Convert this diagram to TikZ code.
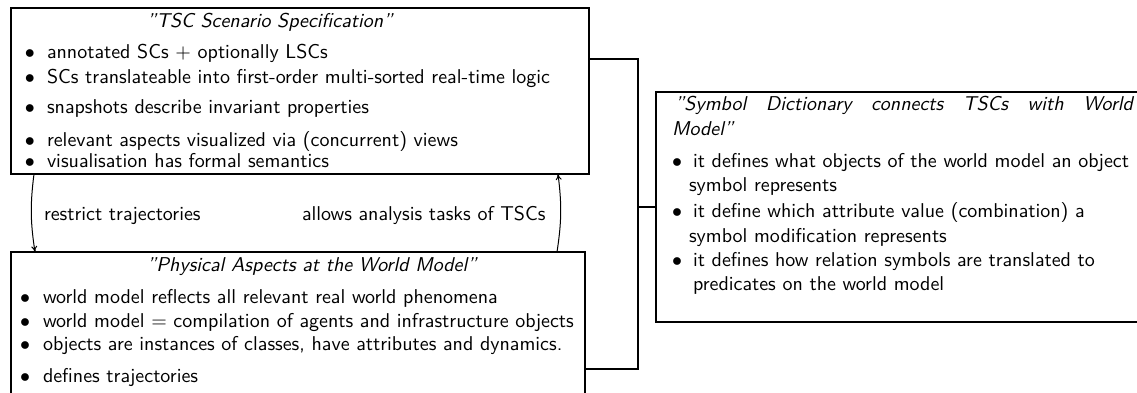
\documentclass[tikz,border=0pt]{standalone}
\usetikzlibrary{arrows.meta}
\begin{document}
\begin{tikzpicture}[x=0.5pt,y=-0.5pt,
  font=\sffamily\fontsize{10}{12}\selectfont,
  box/.style={draw, line width=0.9pt, inner sep=0pt, outer sep=0pt},
  txt/.style={anchor=base west, inner sep=0pt, outer sep=0pt},
  ttl/.style={txt, font=\sffamily\itshape\fontsize{10}{12}\selectfont},
  bul/.style={anchor=base, inner sep=0pt, outer sep=0pt},
  brk/.style={draw, line width=0.9pt},
  arr/.style={draw, line width=0.5pt, -{To[length=3pt,width=3pt]}}]
\useasboundingbox (0,0) rectangle (1137,392);
\clip (0,0) rectangle (1137,392);
% boxes
\node[box, minimum width=289pt, minimum height=83pt] (tsc) at (300,91) {};
\node[box, minimum width=287pt, minimum height=84pt] (pam) at (298,336) {};
\node[box, minimum width=252pt, minimum height=115pt] (sd) at (908,207) {};
% top box text
\node[ttl] (t0) at (147,27) {''TSC Scenario Specification''};
\foreach \y/\t [count=\i] in {58/{annotated SCs $+$ optionally LSCs},
  83/{SCs translateable into first-order multi-sorted real-time logic},
  113/{snapshots describe invariant properties},
  146/{relevant aspects visualized via (concurrent) views},
  167/{visualisation has formal semantics}}{
  \node[bul] (tb\i) at (30,\y) {$\bullet$};
  \node[txt] (tt\i) at (47,\y) {\t};
}
% bottom box text
\node[ttl] (p0) at (147,271) {''Physical Aspects at the World Model''};
\foreach \y/\t [count=\i] in {303/{world model reflects all relevant real world phenomena},
  327/{world model $=$ compilation of agents and infrastructure objects},
  350/{objects are instances of classes, have attributes and dynamics.},
  382/{defines trajectories}}{
  \node[bul] (pb\i) at (25,\y) {$\bullet$};
  \node[txt] (pt\i) at (43,\y) {\t};
}
% right box text
\node[ttl] (s0) at (675,110) {\makebox[229pt][s]{''Symbol Dictionary connects TSCs with World}};
\node[ttl] (s0b) at (672,135) {Model''};
\node[bul] (sb1) at (677,167) {$\bullet$};
\node[txt] (st1) at (693,167) {it defines what objects of the world model an object};
\node[txt] (st1b) at (689,191) {symbol represents};
\node[bul] (sb2) at (677,217) {$\bullet$};
\node[txt] (st2) at (693,217) {it define which attribute value (combination) a};
\node[txt] (st2b) at (689,242) {symbol modification represents};
\node[bul] (sb3) at (677,266) {$\bullet$};
\node[txt] (st3) at (693,266) {it defines how relation symbols are translated to};
\node[txt] (st3b) at (693,290) {predicates on the world model};
% labels
\node[txt] (l1) at (44,220) {restrict trajectories};
\node[txt] (l2) at (302,220) {allows analysis tasks of TSCs};
% bracket connector
\coordinate (bx) at (638,0);
\coordinate (t1) at ([yshift=-25.5pt]tsc.north east);
\coordinate (b1) at ([yshift=-58.5pt]pam.north east);
\draw[brk] (t1) -- (t1 -| bx) -- (b1 -| bx) -- (b1);
\draw[brk] (bx |- sd.west) -- (sd.west);
% arrows
\draw[arr] ([xshift=11.5pt]tsc.south west) to[bend right=8] ([xshift=12pt]pam.north west);
\draw[arr] ([xshift=273pt]pam.north west) to[bend right=8] ([xshift=273.5pt]tsc.south west);
\end{tikzpicture}
\end{document}
